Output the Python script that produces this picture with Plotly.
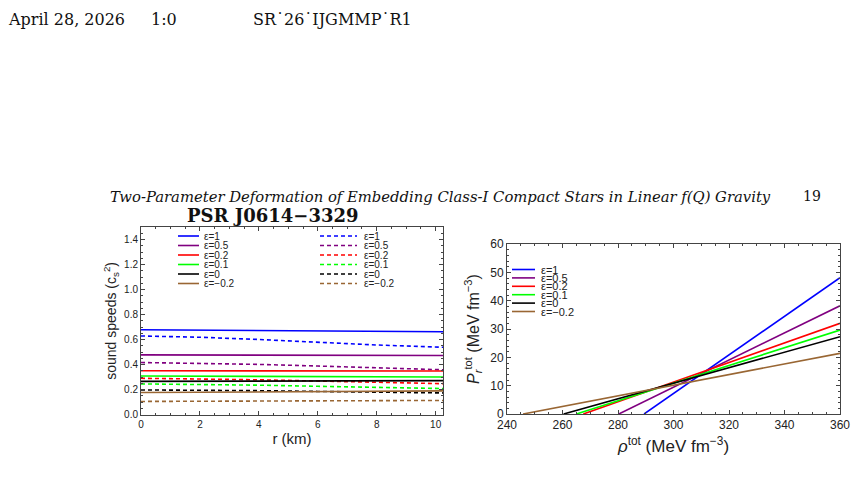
import plotly.graph_objects as go

W, H = 862, 478

# ---------------- data ----------------
eps_labels = ["ε=1", "ε=0.5", "ε=0.2", "ε=0.1", "ε=0", "ε=−0.2"]
colors = ["#0000FF", "#800080", "#FF0000", "#00FF00", "#000000", "#996633"]

r_km = [0, 2, 4, 6, 8, 10.25]
cs2_solid = [
    [0.679, 0.677, 0.674, 0.671, 0.667, 0.663],
    [0.478, 0.477, 0.476, 0.475, 0.474, 0.473],
    [0.351, 0.351, 0.350, 0.350, 0.349, 0.349],
    [0.309, 0.308, 0.306, 0.304, 0.302, 0.301],
    [0.266, 0.267, 0.268, 0.269, 0.271, 0.272],
    [0.177, 0.179, 0.181, 0.184, 0.187, 0.190],
]
cs2_dashed = [
    [0.629, 0.619, 0.601, 0.578, 0.557, 0.539],
    [0.417, 0.412, 0.402, 0.389, 0.374, 0.359],
    [0.291, 0.287, 0.279, 0.269, 0.258, 0.248],
    [0.246, 0.243, 0.236, 0.227, 0.218, 0.209],
    [0.198, 0.196, 0.192, 0.186, 0.180, 0.174],
    [0.106, 0.107, 0.108, 0.110, 0.112, 0.114],
]

rho_tot = [
    [289.4, 360],
    [280.3, 360],
    [267.5, 360],
    [265.0, 360],
    [260.4, 360],
    [245.8, 360],
]
p_tot = [
    [0, 48.1],
    [0, 38.2],
    [0, 32.0],
    [0, 29.6],
    [0, 27.3],
    [0, 21.4],
]

DASH = "4px,3px"


def px(x):
    return x / W


def py(y):
    return 1 - y / H


fig = go.Figure()

for i in range(len(eps_labels)):
    fig.add_trace(go.Scatter(x=r_km, y=cs2_solid[i], mode="lines", name=eps_labels[i],
                             line=dict(color=colors[i], width=1.6), xaxis="x", yaxis="y",
                             showlegend=False))
    fig.add_trace(go.Scatter(x=r_km, y=cs2_dashed[i], mode="lines", name=eps_labels[i],
                             line=dict(color=colors[i], width=1.6, dash=DASH),
                             xaxis="x", yaxis="y", showlegend=False))
for i in range(len(eps_labels)):
    fig.add_trace(go.Scatter(x=rho_tot[i], y=p_tot[i], mode="lines", name=eps_labels[i],
                             line=dict(color=colors[i], width=1.6), xaxis="x2", yaxis="y2",
                             showlegend=False))

tickfont_l = dict(family="Liberation Sans, Arial", size=10, color="#222")
tickfont_r = dict(family="Liberation Sans, Arial", size=12, color="#222")
frame = dict(showline=True, linecolor="#444", linewidth=1, mirror="allticks",
             ticks="inside", ticklen=4, tickcolor="#444", showgrid=False, zeroline=False,
             automargin=False)

fig.update_layout(
    width=W, height=H, margin=dict(l=0, r=0, t=0, b=0, autoexpand=False),
    paper_bgcolor="white", plot_bgcolor="white", showlegend=False,
    xaxis=dict(domain=[px(141), px(443)], range=[0, 10.25], dtick=2, tick0=0,
               anchor="y", tickfont=tickfont_l,
               minor=dict(dtick=0.5, ticks="inside", ticklen=2, tickcolor="#444"),
               title=dict(text="r (km)", font=dict(family="Liberation Sans, Arial", size=15, color="#222"),
                          standoff=4),
               **frame),
    yaxis=dict(domain=[py(414.7), py(227)], range=[0, 1.5], dtick=0.2, tick0=0,
               tickformat=".1f", anchor="x", tickfont=tickfont_l,
               minor=dict(dtick=0.05, ticks="inside", ticklen=2, tickcolor="#444"),
               title=dict(text="sound speeds (c<sub>s</sub><sup>2</sup>)",
                          font=dict(family="Liberation Sans, Arial", size=14, color="#222"),
                          standoff=4),
               **frame),
    xaxis2=dict(domain=[px(507), px(840)], range=[240, 360], dtick=20, tick0=240,
                anchor="y2", tickfont=tickfont_r,
                minor=dict(dtick=5, ticks="inside", ticklen=2, tickcolor="#444"),
                title=dict(text="<i>ρ</i><sup>tot</sup> (MeV fm<sup>−3</sup>)",
                           font=dict(family="Liberation Sans, Arial", size=17, color="#222"),
                           standoff=8),
                **frame),
    yaxis2=dict(domain=[py(414), py(244)], range=[0, 60], dtick=10, tick0=0,
                anchor="x2", tickfont=tickfont_r,
                minor=dict(dtick=2, ticks="inside", ticklen=2, tickcolor="#444"),
                title=dict(text="<i>P<sub>r</sub></i><sup>tot</sup> (MeV fm<sup>−3</sup>)",
                           font=dict(family="Liberation Sans, Arial", size=16, color="#222"),
                           standoff=6),
                **frame),
)

ann = []
shapes = []

# page header
serif = "DejaVu Serif, Liberation Serif"
ann.append(dict(text="April 28, 2026", x=px(6), y=py(19), xanchor="left", yanchor="middle",
                font=dict(family=serif, size=16, color="#111")))
ann.append(dict(text="1:0", x=px(149), y=py(19), xanchor="left", yanchor="middle",
                font=dict(family=serif, size=16, color="#111")))
ann.append(dict(text="SR˙26˙IJGMMP˙R1", x=px(251), y=py(19), xanchor="left", yanchor="middle",
                font=dict(family=serif, size=16, color="#111")))
ann.append(dict(text="<i>Two-Parameter Deformation of Embedding Class-I Compact Stars in Linear f(Q) Gravity</i>",
                x=px(108), y=py(196), xanchor="left", yanchor="middle",
                font=dict(family=serif, size=14.8, color="#111")))
ann.append(dict(text="19", x=px(801), y=py(196), xanchor="left", yanchor="middle",
                font=dict(family=serif, size=14, color="#111")))
# left panel title
ann.append(dict(text="<b>PSR J0614−3329</b>", x=px(273), y=py(215), xanchor="center", yanchor="middle",
                font=dict(family=serif, size=18, color="#111")))

legfont = dict(family="Liberation Sans, Arial", size=10, color="#222")
# left panel legends (solid column and dashed column)
for i, lab in enumerate(eps_labels):
    yy = 236 + 9.5 * i
    shapes.append(dict(type="line", xref="paper", yref="paper", x0=px(178), x1=px(199),
                       y0=py(yy), y1=py(yy), line=dict(color=colors[i], width=1.6)))
    ann.append(dict(text=lab, x=px(202), y=py(yy), xanchor="left", yanchor="middle", font=legfont))
    shapes.append(dict(type="line", xref="paper", yref="paper", x0=px(320), x1=px(357),
                       y0=py(yy), y1=py(yy), line=dict(color=colors[i], width=1.6, dash=DASH)))
    ann.append(dict(text=lab, x=px(362), y=py(yy), xanchor="left", yanchor="middle", font=legfont))

# right panel legend
for i, lab in enumerate(eps_labels):
    yy = 269.5 + 8.4 * i
    shapes.append(dict(type="line", xref="paper", yref="paper", x0=px(512), x1=px(535),
                       y0=py(yy), y1=py(yy), line=dict(color=colors[i], width=1.6)))
    ann.append(dict(text=lab, x=px(539), y=py(yy), xanchor="left", yanchor="middle",
                    font=dict(family="Liberation Sans, Arial", size=11, color="#222")))

for a in ann:
    a.update(xref="paper", yref="paper", showarrow=False)
fig.update_layout(annotations=ann, shapes=shapes)

fig.write_html("out.html")
